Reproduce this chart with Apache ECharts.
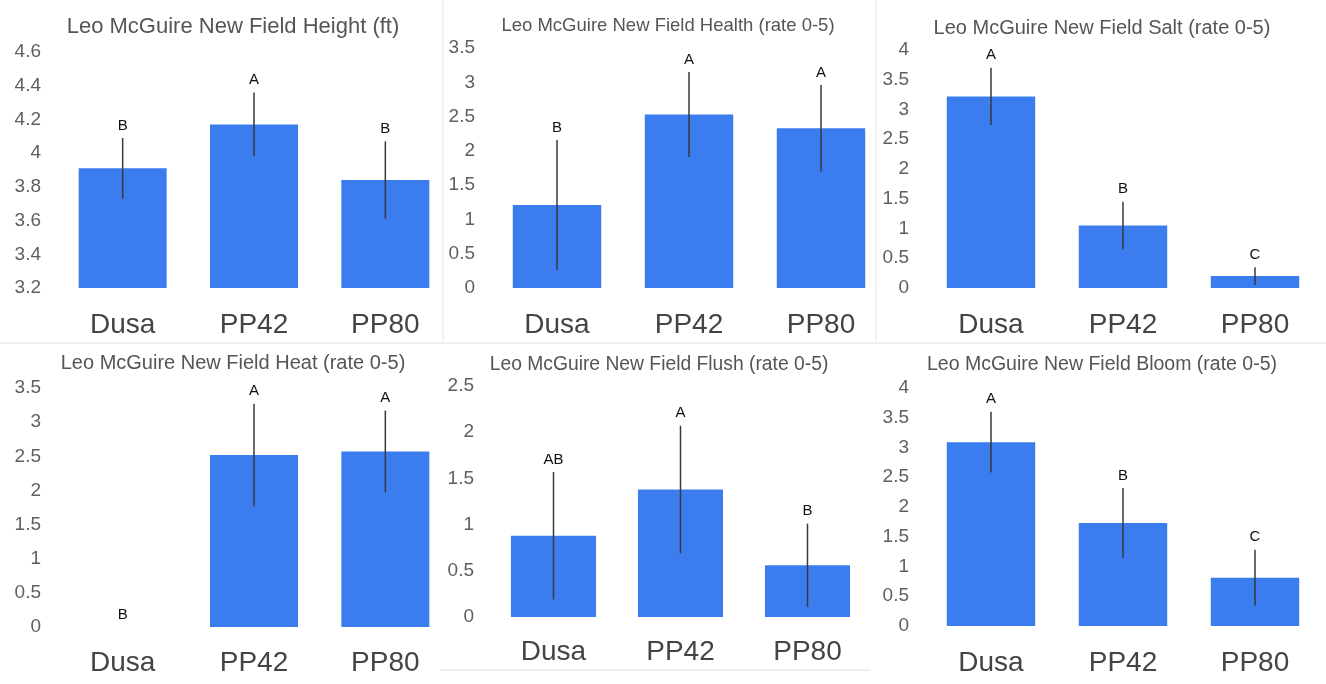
<!DOCTYPE html>
<html>
<head>
<meta charset="utf-8">
<script src="https://cdn.jsdelivr.net/npm/echarts@6/dist/echarts.min.js"></script>
<style>
  html, body { margin: 0; padding: 0; background: #fff; }
  #chart { width: 1326px; height: 684px; }
</style>
</head>
<body>
<div id="chart"></div>
<script>
// ---- data ----
const categories = ['Dusa', 'PP42', 'PP80'];

const heightTitle = 'Leo McGuire New Field Height (ft)';
const heightMean = [3.91, 4.17, 3.84];
const heightErr = [0.18, 0.19, 0.23];
const heightLetters = ['B', 'A', 'B'];

const healthTitle = 'Leo McGuire New Field Health (rate 0-5)';
const healthMean = [1.21, 2.53, 2.33];
const healthErr = [0.95, 0.62, 0.63];
const healthLetters = ['B', 'A', 'A'];

const saltTitle = 'Leo McGuire New Field Salt (rate 0-5)';
const saltMean = [3.22, 1.05, 0.20];
const saltErr = [0.48, 0.40, 0.15];
const saltLetters = ['A', 'B', 'C'];

const heatTitle = 'Leo McGuire New Field Heat (rate 0-5)';
const heatMean = [0, 2.52, 2.57];
const heatErr = [0, 0.75, 0.60];
const heatLetters = ['B', 'A', 'A'];

const flushTitle = 'Leo McGuire New Field Flush (rate 0-5)';
const flushMean = [0.88, 1.38, 0.56];
const flushErr = [0.69, 0.69, 0.45];
const flushLetters = ['AB', 'A', 'B'];

const bloomTitle = 'Leo McGuire New Field Bloom (rate 0-5)';
const bloomMean = [3.09, 1.73, 0.81];
const bloomErr = [0.51, 0.59, 0.47];
const bloomLetters = ['A', 'B', 'C'];

// axis ranges (tick labels)
const heightAxis = { min: 3.2, max: 4.6, interval: 0.2 };
const healthAxis = { min: 0, max: 3.5, interval: 0.5 };
const saltAxis = { min: 0, max: 4, interval: 0.5 };
const heatAxis = { min: 0, max: 3.5, interval: 0.5 };
const flushAxis = { min: 0, max: 2.5, interval: 0.5 };
const bloomAxis = { min: 0, max: 4, interval: 0.5 };

// ---- layout ----
const panels = [
  { title: heightTitle, mean: heightMean, err: heightErr, letters: heightLetters, axis: heightAxis,
    grid: { left: 57, top: 52, width: 394, height: 236 }, titleX: 233, titleY: 16, titleSize: 22, catMargin: 23 },
  { title: healthTitle, mean: healthMean, err: healthErr, letters: healthLetters, axis: healthAxis,
    grid: { left: 491, top: 48, width: 396, height: 240 }, titleX: 668, titleY: 16, titleSize: 18.5, catMargin: 23 },
  { title: saltTitle, mean: saltMean, err: saltErr, letters: saltLetters, axis: saltAxis,
    grid: { left: 925, top: 50, width: 396, height: 238 }, titleX: 1102, titleY: 18, titleSize: 20, catMargin: 23 },
  { title: heatTitle, mean: heatMean, err: heatErr, letters: heatLetters, axis: heatAxis,
    grid: { left: 57, top: 388, width: 394, height: 239 }, titleX: 233, titleY: 353, titleSize: 20, catMargin: 22 },
  { title: flushTitle, mean: flushMean, err: flushErr, letters: flushLetters, axis: flushAxis,
    grid: { left: 490, top: 386, width: 381, height: 231 }, titleX: 659, titleY: 355, titleSize: 19.3, catMargin: 21 },
  { title: bloomTitle, mean: bloomMean, err: bloomErr, letters: bloomLetters, axis: bloomAxis,
    grid: { left: 925, top: 388, width: 396, height: 238 }, titleX: 1102, titleY: 355, titleSize: 19.5, catMargin: 23 }
];

const FONT = '"Liberation Sans", Arial, sans-serif';
const BAR_COLOR = '#3b7def';

const option = {
  backgroundColor: '#ffffff',
  animation: false,
  title: [], grid: [], xAxis: [], yAxis: [], series: [],
  graphic: [
    { type: 'line', shape: { x1: 0, y1: 343, x2: 1326, y2: 343 }, style: { stroke: '#eeeeee', lineWidth: 2 }, silent: true },
    { type: 'line', shape: { x1: 443, y1: 0, x2: 443, y2: 343 }, style: { stroke: '#f2f2f2', lineWidth: 2 }, silent: true },
    { type: 'line', shape: { x1: 876, y1: 0, x2: 876, y2: 343 }, style: { stroke: '#f2f2f2', lineWidth: 2 }, silent: true },
    { type: 'line', shape: { x1: 440, y1: 670, x2: 870, y2: 670 }, style: { stroke: '#eeeeee', lineWidth: 2 }, silent: true }
  ]
};

panels.forEach((p, i) => {
  option.title.push({
    text: p.title,
    left: p.titleX,
    top: p.titleY,
    textAlign: 'center',
    padding: 0,
    textStyle: { fontFamily: FONT, fontSize: p.titleSize, fontWeight: 'normal', color: '#555555' }
  });
  option.grid.push(Object.assign({ containLabel: false }, p.grid));
  option.xAxis.push({
    type: 'category', gridIndex: i, data: categories,
    axisLine: { show: false }, axisTick: { show: false },
    axisLabel: { fontFamily: FONT, fontSize: 28, color: '#444444', margin: p.catMargin }
  });
  option.yAxis.push({
    type: 'value', gridIndex: i,
    min: p.axis.min, max: p.axis.max, interval: p.axis.interval,
    axisLine: { show: false }, axisTick: { show: false },
    splitLine: { show: false },
    axisLabel: { fontFamily: FONT, fontSize: 19, color: '#5f5f5f', margin: 16 }
  });
  option.series.push({
    type: 'bar', xAxisIndex: i, yAxisIndex: i,
    data: p.mean, barWidth: '67%',
    itemStyle: { color: BAR_COLOR },
    clip: true
  });
  option.series.push({
    type: 'custom', xAxisIndex: i, yAxisIndex: i,
    data: p.mean.map((m, k) => [k, m, p.err[k]]),
    encode: { x: 0, y: 1 },
    z: 10,
    renderItem: function (params, api) {
      const idx = api.value(0);
      const m = api.value(1);
      const e = api.value(2);
      const letter = p.letters[params.dataIndex];
      const top = api.coord([idx, m + e]);
      const bot = api.coord([idx, m - e]);
      const children = [];
      if (e > 0) {
        children.push({
          type: 'line',
          shape: { x1: top[0], y1: top[1], x2: bot[0], y2: bot[1] },
          style: { stroke: '#3a3a3a', lineWidth: 1.5 }
        });
      }
      children.push({
        type: 'text',
        x: top[0], y: top[1] - 5,
        style: {
          text: letter, fill: '#111111',
          font: '15px ' + FONT,
          textAlign: 'center', textVerticalAlign: 'bottom'
        }
      });
      return { type: 'group', children: children };
    }
  });
});

const chart = echarts.init(document.getElementById('chart'), null, { renderer: 'canvas' });
chart.setOption(option);
</script>
</body>
</html>
